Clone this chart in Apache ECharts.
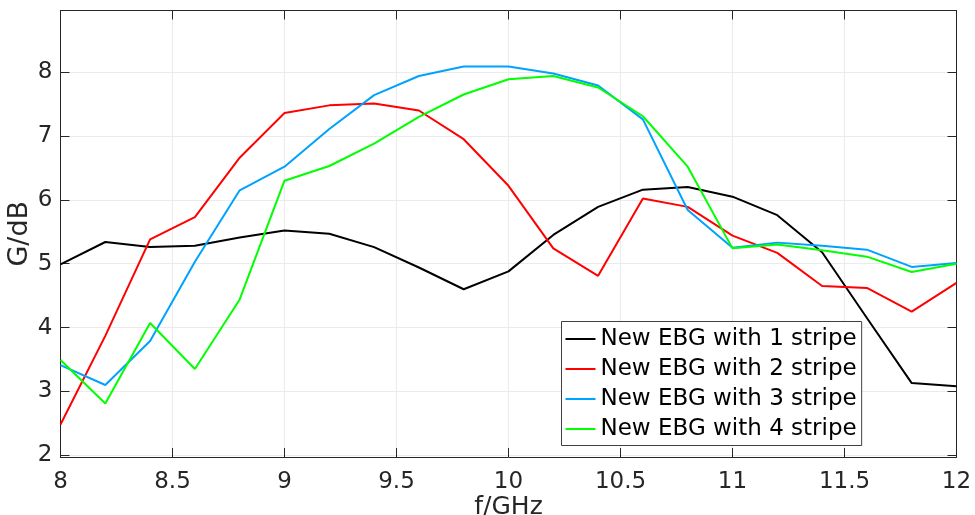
<!DOCTYPE html>
<html>
<head>
<meta charset="utf-8">
<script src="https://cdn.jsdelivr.net/npm/echarts@6/dist/echarts.min.js"></script>
<style>
html,body{margin:0;padding:0;background:#fff;}
#chart{width:975px;height:515px;}
</style>
</head>
<body>
<div id="chart"></div>
<script>
var freq = [8.0, 8.2, 8.4, 8.6, 8.8, 9.0, 9.2, 9.4, 9.6, 9.8, 10.0, 10.2, 10.4, 10.6, 10.8, 11.0, 11.2, 11.4, 11.6, 11.8, 12.0];
var stripe1 = [4.99, 5.34, 5.26, 5.28, 5.41, 5.52, 5.47, 5.26, 4.94, 4.60, 4.88, 5.45, 5.89, 6.16, 6.20, 6.05, 5.76, 5.18, 4.15, 3.13, 3.08];
var stripe2 = [2.48, 3.87, 5.38, 5.73, 6.66, 7.36, 7.48, 7.51, 7.40, 6.95, 6.22, 5.24, 4.81, 6.02, 5.89, 5.44, 5.17, 4.65, 4.62, 4.25, 4.70];
var stripe3 = [3.41, 3.10, 3.79, 5.03, 6.15, 6.52, 7.11, 7.64, 7.94, 8.09, 8.09, 7.98, 7.79, 7.26, 5.84, 5.25, 5.33, 5.28, 5.22, 4.95, 5.01];
var stripe4 = [3.49, 2.81, 4.07, 3.35, 4.44, 6.30, 6.53, 6.88, 7.30, 7.65, 7.89, 7.94, 7.76, 7.31, 6.52, 5.24, 5.30, 5.21, 5.11, 4.87, 5.00];
var seriesNames = ['New EBG with 1 stripe', 'New EBG with 2 stripe', 'New EBG with 3 stripe', 'New EBG with 4 stripe'];
var seriesColors = ['#000000', '#ff0000', '#00a2ff', '#00ff00'];
var xLabelText = 'f/GHz';
var yLabelText = 'G/dB';

function pairs(ys) { return freq.map(function (f, i) { return [f, ys[i]]; }); }
var allData = [stripe1, stripe2, stripe3, stripe4];

var axisColor = '#262626';
var gridColor = '#ebebeb';
var FONT = '"DejaVu Sans", sans-serif';

var chart = echarts.init(document.getElementById('chart'), null, {renderer: 'canvas'});
var option = {
  animation: false,
  backgroundColor: '#ffffff',
  grid: {left: 60.5, right: 18.5, top: 10.5, bottom: 58, containLabel: false, outerBoundsMode: 'none'},
  xAxis: [{
    type: 'value', min: 8, max: 12, interval: 0.5, position: 'bottom',
    name: xLabelText, nameLocation: 'middle', nameGap: 38, nameMoveOverlap: false,
    nameTextStyle: {color: axisColor, fontSize: 25, fontFamily: FONT},
    axisLine: {show: true, lineStyle: {color: axisColor, width: 1}},
    axisTick: {show: true, inside: true, length: 9, lineStyle: {color: axisColor}},
    axisLabel: {color: axisColor, fontSize: 23, fontFamily: FONT, margin: 14,
      formatter: function (v) { return String(+v.toFixed(2)); }},
    splitLine: {show: true, lineStyle: {color: gridColor, width: 1}}
  }, {
    type: 'value', min: 8, max: 12, interval: 0.5, position: 'top',
    axisLine: {show: true, lineStyle: {color: axisColor, width: 1}},
    axisTick: {show: true, inside: true, length: 9, lineStyle: {color: axisColor}},
    axisLabel: {show: false}, splitLine: {show: false}
  }],
  yAxis: [{
    type: 'value', min: 1.972, max: 8.966, splitNumber: 7, minInterval: 1, maxInterval: 1,
    position: 'left',
    name: yLabelText, nameLocation: 'middle', nameGap: 27, nameRotate: 90, nameMoveOverlap: false,
    nameTextStyle: {color: axisColor, fontSize: 27, fontFamily: FONT},
    axisLine: {show: true, lineStyle: {color: axisColor, width: 1}},
    axisTick: {show: true, inside: true, length: 9, lineStyle: {color: axisColor}},
    axisLabel: {color: axisColor, fontSize: 23, fontFamily: FONT, margin: 8,
      showMinLabel: false, showMaxLabel: false,
      formatter: function (v) { return String(+v.toFixed(2)); }},
    splitLine: {show: true, lineStyle: {color: gridColor, width: 1}}
  }, {
    type: 'value', min: 1.972, max: 8.966, splitNumber: 7, minInterval: 1, maxInterval: 1,
    position: 'right',
    axisLine: {show: true, lineStyle: {color: axisColor, width: 1}},
    axisTick: {show: true, inside: true, length: 9, lineStyle: {color: axisColor}},
    axisLabel: {show: false}, splitLine: {show: false}
  }],
  legend: {
    orient: 'vertical',
    left: 561.5, top: 321.5,
    padding: [6, 5, 5, 4],
    itemWidth: 30, itemHeight: 14, itemGap: 7,
    backgroundColor: '#ffffff',
    borderColor: '#404040', borderWidth: 1, borderRadius: 0,
    textStyle: {color: '#000000', fontSize: 23, lineHeight: 23, fontFamily: FONT},
    data: seriesNames.map(function (n) { return {name: n, icon: 'path://M0,0 L30,0 L30,2 L0,2 Z'}; })
  },
  series: allData.map(function (ys, i) {
    return {
      name: seriesNames[i], type: 'line', data: pairs(ys),
      xAxisIndex: 0, yAxisIndex: 0,
      symbol: 'none', showSymbol: false,
      lineStyle: {color: seriesColors[i], width: 2},
      itemStyle: {color: seriesColors[i]},
      z: 2 + i
    };
  })
};
chart.setOption(option);
</script>
</body>
</html>
